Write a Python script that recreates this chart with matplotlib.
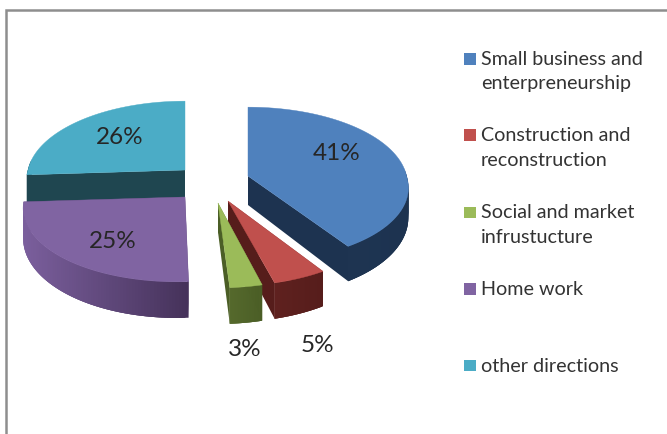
import numpy as np
import matplotlib
matplotlib.use("Agg")
import matplotlib.pyplot as plt
from matplotlib.colors import to_rgb
from matplotlib.patches import Polygon, Rectangle

# ---- data ----
categories = ["Small business and\nenterpreneurship", "Construction and\nreconstruction",
              "Social and market\ninfrustucture", "Home work", "other directions"]
values = [41, 5, 3, 25, 26]
pct_labels = ["41%", "5%", "3%", "25%", "26%"]

# ---- styles / layout ----
top_colors = ["#4f81bd", "#c0504d", "#9bbb59", "#8064a2", "#4bacc6"]
rim_left = ["#1f3654", "#5f211f", "#55692c", "#7b5f9d", "#1f4650"]   # colour at left end of rim
rim_right = ["#1d3350", "#561d1b", "#4b5e26", "#45325a", "#1f4650"]  # colour at right end of rim
apex_x = [248, 228, 218, 185, 185]
apex_y = [176, 201, 203, 197, 170]
scale = [1.01, 1.0, 1.0, 1.02, 1.0]
label_x = [337, 317, 245, 113, 120]
label_y = [153.5, 346, 350, 242, 137.5]
legend_y = [58.8, 135, 212.5, 289, 365.5]
RX, RY, K, DEPTH = 157, 76, 0.104, 29
VANISH_X, VANISH_GAIN = 215, 2.2

plt.rcParams["font.family"] = ["Lato", "DejaVu Sans"]
fig = plt.figure(figsize=(6.67, 4.34), dpi=100)
ax = fig.add_axes([0, 0, 1, 1])
ax.set_xlim(0, 667)
ax.set_ylim(434, 0)
ax.axis("off")

# frame of the pasted chart
ax.plot([6.3, 6.3, 667], [434, 10.3, 10.3], color="#8e8e8e", lw=1.8, solid_joinstyle="miter")


def project(theta, ax0, ay0, s):
    """Perspective projection of the rim of a tilted unit disc (clockwise from top)."""
    X, Y = np.sin(theta), -np.cos(theta)
    p = 1 / (1 - K * Y)
    drift = (ax0 - VANISH_X) * np.maximum(p - 1, 0) * VANISH_GAIN
    return ax0 + s * RX * X * p + drift, ay0 + RY * Y * p, DEPTH * p * p


fractions = np.array(values, dtype=float) / sum(values)
edges = np.concatenate([[0], np.cumsum(fractions)]) * 2 * np.pi
order = [4, 3, 0, 1, 2]

for i in order:
    t = np.linspace(edges[i], edges[i + 1], 90)
    x, y, d = project(t, apex_x[i], apex_y[i], scale[i])
    ax0, ay0 = apex_x[i], apex_y[i]
    left, right = np.array(to_rgb(rim_left[i])), np.array(to_rgb(rim_right[i]))
    dark = rim_right[i]
    z = 1 + order.index(i)
    # cut faces (the back edge of the last slice is hidden behind its top)
    for j in ((0,) if i == len(values) - 1 else (0, -1)):
        ax.add_patch(Polygon([(ax0, ay0), (x[j], y[j]), (x[j], y[j] + d[j]), (ax0, ay0 + DEPTH)],
                             closed=True, fc=dark, ec="none", zorder=z))
    # rim with a horizontal gradient, overlapping quads to hide seams
    span = max(x.max() - x.min(), 1)
    for k in range(len(t) - 1):
        if -np.cos(0.5 * (t[k] + t[k + 1])) < -0.1:
            continue
        n = min(k + 3, len(t) - 1)
        f = (0.5 * (x[k] + x[k + 1]) - x.min()) / span
        c = tuple(left + (right - left) * f)
        ax.add_patch(Polygon([(x[k], y[k]), (x[n], y[n]), (x[n], y[n] + d[n]), (x[k], y[k] + d[k])],
                             closed=True, fc=c, ec="none", zorder=z))
    # top face
    ax.add_patch(Polygon(np.column_stack([np.r_[ax0, x], np.r_[ay0, y]]), closed=True,
                         fc=top_colors[i], ec=top_colors[i], lw=0.3, zorder=z + 0.5))

for s, lx, ly in zip(pct_labels, label_x, label_y):
    ax.text(lx, ly, s, ha="center", va="center", fontsize=17.5, color="#262626", zorder=20)

# legend
for name, c, ly in zip(categories, top_colors, legend_y):
    ax.add_patch(Rectangle((464, ly - 5.8), 11.5, 11.6, fc=c, ec="none", zorder=20))
    ax.text(481, ly - 8, name, ha="left", va="top", fontsize=14.2, color="#333333",
            linespacing=1.55, zorder=20)

fig.savefig("out.png", dpi=100)
